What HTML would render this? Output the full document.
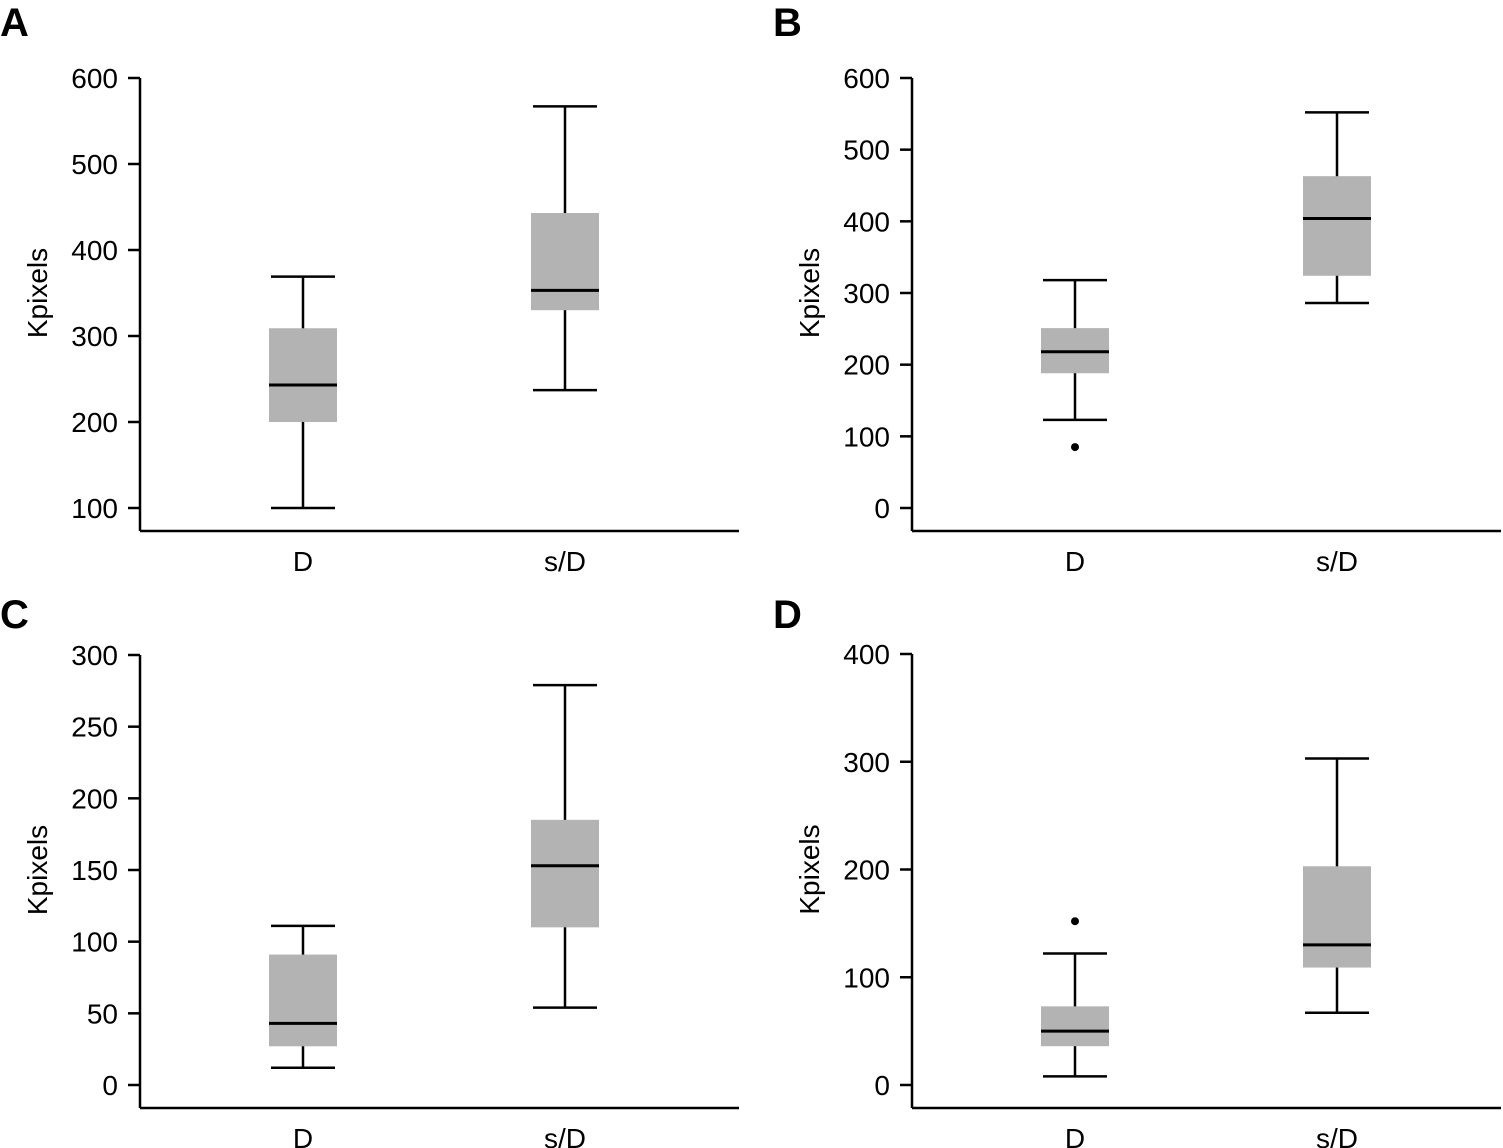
<!DOCTYPE html>
<html><head><meta charset="utf-8">
<style>
body{margin:0;background:#fff;}
svg{display:block;font-family:"Liberation Sans",Arial,sans-serif;}
</style></head>
<body>
<svg id="fig" width="1503" height="1148" viewBox="0 0 1503 1148"></svg>
<script>
const categories = ["D","s/D"];
const panelLetters = ["A","B","C","D"];
const yTicksA = [100,200,300,400,500,600];
const yTicksB = [0,100,200,300,400,500,600];
const yTicksC = [0,50,100,150,200,250,300];
const yTicksD = [0,100,200,300,400];
// [whiskerLow, Q1, median, Q3, whiskerHigh]
const boxesA = [[100,200,243,309,369],[237,330,353,443,567]];
const boxesB = [[123,188,218,251,318],[286,324,404,463,552]];
const boxesC = [[12,27,43,91,111],[54,110,153,185,279]];
const boxesD = [[8,36,50,73,122],[67,109,130,203,303]];
const outliersB = [[0,85]];
const outliersD = [[0,152]];

const NS="http://www.w3.org/2000/svg";
const svg=document.getElementById('fig');
function mk(tag,attrs,parent,txt){const e=document.createElementNS(NS,tag);for(const k in attrs)e.setAttribute(k,attrs[k]);if(txt!==undefined)e.textContent=txt;(parent||svg).appendChild(e);return e;}

const panels=[
 {letter:panelLetters[0],lx:0,ly:36,ax:140,axEnd:739,yTop:78,yBot:508,axY:531,yMin:100,yMax:600,ticks:yTicksA,boxes:boxesA,out:[]},
 {letter:panelLetters[1],lx:773,ly:36,ax:912,axEnd:1501,yTop:78,yBot:508,axY:531,yMin:0,yMax:600,ticks:yTicksB,boxes:boxesB,out:outliersB},
 {letter:panelLetters[2],lx:0,ly:628,ax:140,axEnd:739,yTop:655,yBot:1085,axY:1108,yMin:0,yMax:300,ticks:yTicksC,boxes:boxesC,out:[]},
 {letter:panelLetters[3],lx:773,ly:628,ax:912,axEnd:1501,yTop:654,yBot:1085,axY:1108,yMin:0,yMax:400,ticks:yTicksD,boxes:boxesD,out:outliersD}
];
panels.forEach((p,pi)=>{
 const g=mk('g',{});
 
 
 const y=v=>p.yBot-(v-p.yMin)/(p.yMax-p.yMin)*(p.yBot-p.yTop);
 const xc=i=>p.ax+163+i*262;
 const L=mk('text',{x:p.lx,y:p.ly,'font-size':40,'font-weight':'bold'},g,p.letter);
 
 
 const ya=mk('line',{x1:p.ax,x2:p.ax,y1:y(p.ticks[p.ticks.length-1]),y2:p.axY,stroke:'#000','stroke-width':2.5},g);
 
 
 const xa=mk('line',{x1:p.ax,x2:p.axEnd,y1:p.axY,y2:p.axY,stroke:'#000','stroke-width':2.5},g);
 
 
 p.ticks.forEach(t=>{
  mk('line',{x1:p.ax-12,x2:p.ax,y1:y(t),y2:y(t),stroke:'#000','stroke-width':2.5},g);
  const tl=mk('text',{x:p.ax-22,y:y(t)+10,'font-size':28,'text-anchor':'end'},g,t);
  
  
 });
 const yl=mk('text',{x:0,y:0,'font-size':28,'text-anchor':'middle',transform:`translate(${p.ax-93},${(p.yTop+p.yBot)/2}) rotate(-90)`},g,'Kpixels');
 
 
 categories.forEach((c,i)=>{
  const cl=mk('text',{x:xc(i),y:p.axY+40,'font-size':28,'text-anchor':'middle'},g,c);
  
  
  const b=p.boxes[i],cx=xc(i);
  const bg=mk('g',{},g);
  
  
  mk('line',{x1:cx,x2:cx,y1:y(b[0]),y2:y(b[4]),stroke:'#000','stroke-width':2.5},bg);
  mk('line',{x1:cx-32,x2:cx+32,y1:y(b[0]),y2:y(b[0]),stroke:'#000','stroke-width':2.5},bg);
  mk('line',{x1:cx-32,x2:cx+32,y1:y(b[4]),y2:y(b[4]),stroke:'#000','stroke-width':2.5},bg);
  mk('rect',{x:cx-34,y:y(b[3]),width:68,height:y(b[1])-y(b[3]),fill:'#b3b3b3'},bg);
  mk('line',{x1:cx-34,x2:cx+34,y1:y(b[2]),y2:y(b[2]),stroke:'#000','stroke-width':3},bg);
 });
 p.out.forEach(o=>{
  const d=mk('circle',{cx:xc(o[0]),cy:y(o[1]),r:4,fill:'#000'},g);
  
  
 });
});
</script>
</body></html>
